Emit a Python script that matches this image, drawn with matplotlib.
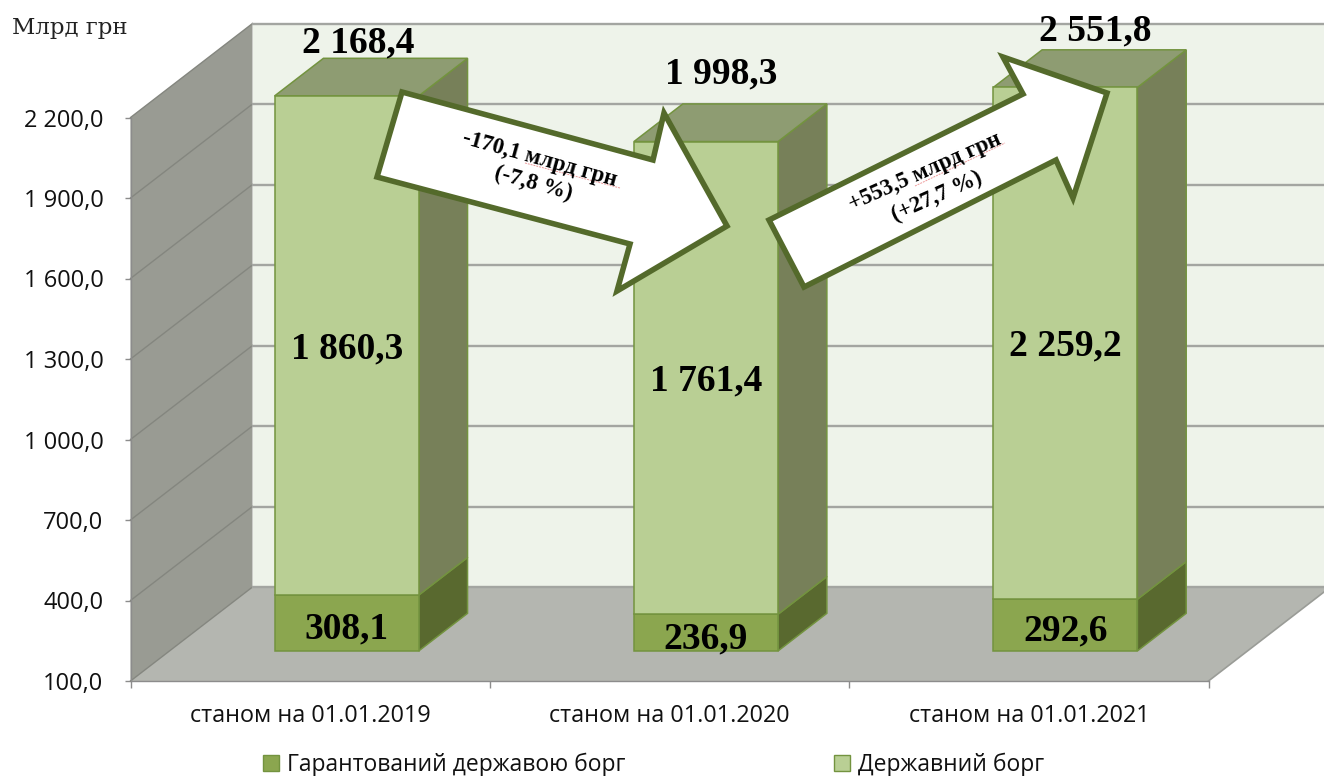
import matplotlib
matplotlib.use("Agg")
import matplotlib.pyplot as plt
import numpy as np
from matplotlib.patches import Polygon, Patch
from matplotlib.transforms import Affine2D

categories = ["станом на 01.01.2019", "станом на 01.01.2020", "станом на 01.01.2021"]
guaranteed = [308.1, 236.9, 292.6]
state = [1860.3, 1761.4, 2259.2]
totals = [2168.4, 1998.3, 2551.8]
yticks = [100, 400, 700, 1000, 1300, 1600, 1900, 2200]
series_names = ["Гарантований державою борг", "Державний борг"]
arrow_down_lines = ["-170,1 млрд грн", "(-7,8 %)"]
arrow_up_lines = ["+553,5 млрд грн", "(+27,7 %)"]


def fmt(v):
    s = f"{v:,.1f}".replace(",", " ").replace(".", ",")
    return s


W, H = 1324, 776
fig = plt.figure(figsize=(W / 100, H / 100), dpi=100, facecolor="white")
L, R, T, B = 130.5, 1208.5, 117.5, 681.0
ax = fig.add_axes([L / W, 1 - B / H, (R - L) / W, (B - T) / H])
ymin, ymax = yticks[0], yticks[-1]
ax.set_xlim(0, 3)
ax.set_ylim(ymin, ymax)
ax.patch.set_visible(False)

px = Affine2D().scale(1 / W, -1 / H).translate(0, 1) + fig.transFigure

# depth vector of the pseudo-3D box, in data units
DX = 122 / ((R - L) / 3)
DY = 94 / ((B - T) / (ymax - ymin))


def P(x, y, d=0.0):
    return (x + DX * d, y + DY * d)


def poly(pts, fc, ec="none", lw=0.0, z=1):
    ax.add_patch(Polygon(pts, closed=True, facecolor=fc, edgecolor=ec, linewidth=lw,
                         zorder=z, clip_on=False, joinstyle="miter"))


wall_c, side_c, floor_c = "#EEF3EA", "#999B93", "#B4B6B0"
grid_c = "#A3A5A1"

# walls and floor
poly([P(0, ymin, 1), P(3, ymin, 1), P(3, ymax, 1), P(0, ymax, 1)], wall_c, z=1)
poly([P(0, ymin), P(0, ymax), P(0, ymax, 1), P(0, ymin, 1)], side_c, z=1)
poly([P(0, ymin), P(3, ymin), P(3, ymin, 1), P(0, ymin, 1)], floor_c, z=1)
for t in yticks:
    a, b = P(0, t), P(0, t, 1)
    ax.plot([a[0], b[0]], [a[1], b[1]], color="#84867F", lw=1.0, zorder=2, clip_on=False)
    a, b = P(0, t, 1), P(3, t, 1)
    ax.plot([a[0], b[0]], [a[1], b[1]], color=grid_c, lw=1.7, zorder=2, clip_on=False)
a, b = P(3, ymin), P(3, ymin, 1)
ax.plot([a[0], b[0]], [a[1], b[1]], color="#9A9C97", lw=1.2, zorder=2, clip_on=False)

# bars
bw, d0, d1 = 0.401, 0.32, 0.72
edge = "#73933F"
front = ["#8BA64F", "#B9CF94"]
sides = ["#59692F", "#778059"]
top_c = "#8E9C72"
for i in range(len(categories)):
    cx = i + 0.5 - 0.007
    x0, x1 = cx - bw / 2, cx + bw / 2
    y0 = ymin
    y1 = guaranteed[i]
    y2 = min(guaranteed[i] + state[i], ymax)
    for (lo, hi, fc, sc) in [(y0, y1, front[0], sides[0]), (y1, y2, front[1], sides[1])]:
        poly([P(x1, lo, d0), P(x1, lo, d1), P(x1, hi, d1), P(x1, hi, d0)], sc, edge, 1.1, 4)
        poly([P(x0, lo, d0), P(x1, lo, d0), P(x1, hi, d0), P(x0, hi, d0)], fc, edge, 1.1, 5)
    poly([P(x0, y2, d0), P(x1, y2, d0), P(x1, y2, d1), P(x0, y2, d1)], top_c, edge, 1.1, 4)

    lab = dict(family="Liberation Serif", weight="bold", fontsize=27, color="black",
               ha="center", va="center", zorder=6, clip_on=False)
    m = P(cx, (y1 + y2) / 2, d0)
    ax.annotate(fmt(state[i]), m, xytext=(0, -3), textcoords="offset pixels", **lab)
    m = P(cx, (y0 + y1) / 2, d0)
    ax.annotate(fmt(guaranteed[i]), m, xytext=(0, -6), textcoords="offset pixels", **lab)

# total labels sit freely above the bars
for tx, ty, v in zip([358, 721, 1095], [43, 74, 31], totals):
    fig.text(tx, ty, fmt(v), transform=px, family="Liberation Serif", weight="bold",
             fontsize=27, ha="center", va="center", zorder=7)

# axes furniture
sans = "Open Sans"
for s in ("top", "right"):
    ax.spines[s].set_visible(False)
for s in ("left", "bottom"):
    ax.spines[s].set_color("#8C8C8C")
    ax.spines[s].set_linewidth(1.0)
    ax.spines[s].set_zorder(3)
ax.set_yticks(yticks)
ax.set_yticklabels([fmt(t) for t in yticks], family=sans, fontsize=17, color="#111111")
ax.tick_params(axis="y", length=4, width=1, color="#8C8C8C", pad=15.5)
ax.set_xticks([0, 1, 2, 3])
ax.set_xticklabels([])
ax.tick_params(axis="x", which="major", length=5, width=1, color="#8C8C8C")
ax.set_xticks([0.5, 1.5, 2.5], minor=True)
ax.set_xticklabels(categories, minor=True, family=sans, fontsize=16.8, color="#111111")
ax.tick_params(axis="x", which="minor", length=0, pad=16.7)

# unit label
fig.text(12, 28, "Млрд грн", transform=px, family="DejaVu Serif", fontsize=16.5, color="#222222",
         ha="left", va="center")

# callout arrows
arrow_down = [(402, 92), (653, 160), (664, 113), (727, 226), (617, 291), (630, 244), (377, 177)]
arrow_up = [(769, 220), (1023, 94), (1003, 57), (1107, 93), (1073, 198), (1056, 160), (804, 287)]
for pts in (arrow_down, arrow_up):
    fig.add_artist(Polygon(pts, closed=True, transform=px, facecolor="white", edgecolor="#546A2B",
                           linewidth=4.0, joinstyle="miter", zorder=8))

tx = dict(transform=px, family="Liberation Serif", ha="center", va="center",
          rotation_mode="anchor", zorder=9, color="black")
fig.text(540, 159, arrow_down_lines[0], rotation=-15.6, weight="bold", fontsize=16.5, **tx)
fig.text(533, 184, arrow_down_lines[1], rotation=-15.6, weight="bold", fontsize=16.5, **tx)
fig.text(925, 172, arrow_up_lines[0], rotation=24, weight="bold", fontsize=16.5, **tx)
fig.text(937, 197, arrow_up_lines[1], rotation=24, weight="bold", fontsize=16.5, **tx)

# spell-check underlines visible in the source
for (xa, ya, xb, yb) in [(525, 163, 620, 188), (915, 186, 1005, 143)]:
    fig.add_artist(plt.Line2D([xa, xb], [ya, yb], transform=px, color="#EE9A9A", lw=0.7,
                              ls=(0, (2, 1)), zorder=8.5))

# legend
handles = [Patch(facecolor=front[0], edgecolor=edge, linewidth=1.0, label=series_names[0]),
           Patch(facecolor=front[1], edgecolor=edge, linewidth=1.0, label=series_names[1])]
fig.legend(handles=handles, ncol=2, frameon=False, loc="center left",
           bbox_to_anchor=(263 / W, 1 - 765 / H), prop={"family": sans, "size": 16.5},
           handlelength=0.68, handleheight=0.68, handletextpad=0.35, columnspacing=9.13,
           borderpad=0, borderaxespad=0, labelcolor="#111111")

fig.savefig("out.png", dpi=100)
